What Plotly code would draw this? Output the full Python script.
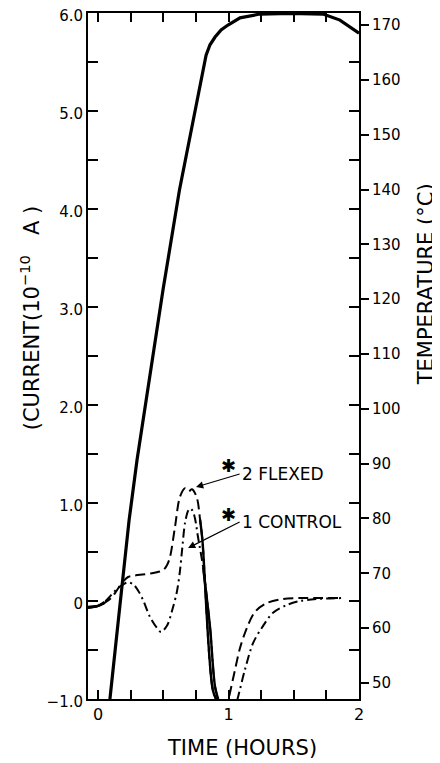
import numpy as np
import plotly.graph_objects as go

# ---- data ----
time_temp = [0.06, 0.092, 0.172, 0.238, 0.299, 0.379, 0.498, 0.624, 0.728, 0.828,
             0.858, 0.897, 0.943, 0.996, 1.088, 1.241, 1.471, 1.724, 1.854, 2.0]
temperature_c = [39.0, 47.3, 65.1, 79.7, 90.7, 103.4, 121.7, 139.9, 152.7, 164.5,
                 166.4, 167.8, 169.1, 170.0, 171.3, 172.0, 172.1, 172.0, 170.9, 168.5]

time_flexed = [-0.077, 0.0, 0.05, 0.10, 0.14, 0.17, 0.20, 0.23, 0.28, 0.34, 0.40, 0.44,
               0.50, 0.53, 0.552, 0.59, 0.628, 0.667, 0.695, 0.72, 0.756, 0.782, 0.80,
               0.88, 0.92, 0.96, 1.004, 1.05, 1.088, 1.142, 1.203, 1.295, 1.418, 1.548,
               1.678, 1.877]
current_flexed = [-0.06, -0.05, -0.02, 0.03, 0.10, 0.16, 0.21, 0.245, 0.26, 0.27, 0.28, 0.29,
                  0.316, 0.37, 0.452, 0.758, 1.064, 1.15, 1.12, 1.14, 1.06, 0.83, 0.62,
                  -0.91, -1.05, -1.25, -0.98, -0.70, -0.48, -0.27, -0.11, -0.02, 0.02, 0.03,
                  0.03, 0.03]

time_control = [-0.077, 0.0, 0.05, 0.10, 0.15, 0.20, 0.23, 0.27, 0.31, 0.345, 0.398, 0.452,
                0.483, 0.529, 0.567, 0.605, 0.628, 0.644, 0.667, 0.69, 0.705, 0.725, 0.745,
                0.766, 0.805, 0.858, 0.897, 0.93, 0.99, 1.073, 1.126, 1.188, 1.257, 1.341,
                1.448, 1.548, 1.678, 1.877]
current_control = [-0.07, -0.05, -0.01, 0.06, 0.13, 0.175, 0.19, 0.17, 0.10, 0.01, -0.163, -0.276,
                   -0.316, -0.25, -0.10, 0.10, 0.31, 0.52, 0.80, 0.92, 0.945, 0.92, 0.83,
                   0.653, 0.347, -0.265, -0.878, -1.05, -1.4, -0.98, -0.70, -0.43, -0.27, -0.12,
                   -0.04, 0.0, 0.02, 0.03]

x_tickvals = [0, 0.25, 0.5, 0.75, 1.0, 1.25, 1.5, 1.75, 2.0]
x_ticktext = ["0", "", "", "", "1", "", "", "", "2"]
y_tickvals = [-1.0, -0.5, 0, 0.5, 1.0, 1.5, 2.0, 2.5, 3.0, 3.5, 4.0, 4.5, 5.0, 5.5, 6.0]
y_ticktext = ["\u22121.0", "", "0", "", "1.0", "", "2.0", "", "3.0", "", "4.0", "", "5.0", "", "6.0"]
t_tickvals = [50, 60, 70, 80, 90, 100, 110, 120, 130, 140, 150, 160, 170]

FONT = "DejaVu Sans"
BLACK = "#000000"
NB = "\u00a0"

fig = go.Figure()

# temperature (right axis)
fig.add_trace(go.Scatter(x=time_temp, y=temperature_c, yaxis="y2", mode="lines",
                         line=dict(color=BLACK, width=3.2), showlegend=False))

# current curves
fig.add_trace(go.Scatter(x=time_flexed, y=current_flexed, mode="lines",
                         line=dict(color=BLACK, width=2, dash="10px,5px", shape="spline", smoothing=0.9),
                         showlegend=False))
fig.add_trace(go.Scatter(x=time_control, y=current_control, mode="lines",
                         line=dict(color=BLACK, width=2, dash="9px,4px,2px,4px", shape="spline", smoothing=0.9),
                         showlegend=False))

# where the two current curves overlap, the drawing is a solid heavy stroke
for tt, cc in [(time_flexed, current_flexed), (time_control, current_control)]:
    t_arr = np.array(tt)
    c_arr = np.array(cc)
    for lo, hi in [(-1, 0.055), (0.78, 0.99)]:
        m = (t_arr >= lo) & (t_arr <= hi)
        fig.add_trace(go.Scatter(x=t_arr[m], y=c_arr[m], mode="lines",
                                 line=dict(color=BLACK, width=2.4, shape="spline", smoothing=0.9),
                                 showlegend=False))

# the page adds an 8px body margin, so the figure is 8px smaller than the window
fig.update_layout(
    width=432, height=755,
    margin=dict(l=80, r=81, t=5, b=64, autoexpand=False),
    paper_bgcolor="white", plot_bgcolor="white",
    font=dict(family=FONT, color=BLACK, size=15),
    xaxis=dict(range=[-0.077, 2.0], tickvals=x_tickvals, ticktext=x_ticktext, automargin=False,
               ticks="inside", ticklen=9, tickwidth=1.5, tickcolor=BLACK,
               showline=True, linewidth=2, linecolor=BLACK, mirror="ticks",
               showgrid=False, zeroline=False, tickfont=dict(size=16)),
    yaxis=dict(range=[-1.0, 6.0], tickvals=y_tickvals, ticktext=y_ticktext, automargin=False,
               ticks="inside", ticklen=10, tickwidth=1.5, tickcolor=BLACK,
               showline=True, linewidth=2, linecolor=BLACK, mirror="ticks",
               ticklabeloverflow="allow", ticklabelshift=3,
               showgrid=False, zeroline=False, tickfont=dict(size=15)),
    yaxis2=dict(range=[47.08, 172.19], tickvals=t_tickvals, overlaying="y", side="right",
                anchor="x", ticks="outside", ticklen=9, tickwidth=1.5, tickcolor=BLACK,
                showline=False, showgrid=False, zeroline=False, automargin=False,
                tickprefix=NB * 2, ticklabeloverflow="allow", tickfont=dict(size=15)),
)

ann = []
# axis titles
ann.append(dict(text="TIME (HOURS)", xref="paper", yref="paper", x=0.568, y=-0.0714,
                showarrow=False, font=dict(size=21), xanchor="center", yanchor="middle"))
ann.append(dict(text="(CURRENT(10<sup>\u221210</sup>" + NB * 3 + "A )", xref="paper", yref="paper",
                x=-0.214, y=0.555, textangle=-90, showarrow=False, font=dict(size=21),
                xanchor="center", yanchor="middle"))
ann.append(dict(text="TEMPERATURE (\u00b0C)", xref="paper", yref="paper",
                x=1.246, y=0.604, textangle=-90, showarrow=False, font=dict(size=21),
                xanchor="center", yanchor="middle"))
# series labels with arrows (arrow head on the curve, label at the tail)
for star_y, head_x, head_y, tail_x, tail_y, label in [
        (1.378, 0.751, 1.163, 1.085, 1.296, "2 FLEXED"),
        (0.878, 0.69, 0.541, 1.085, 0.806, "1 CONTROL")]:
    ann.append(dict(text="\u2731", x=1.0, y=star_y, xref="x", yref="y", showarrow=False,
                    font=dict(size=18), xanchor="center", yanchor="middle"))
    ann.append(dict(text=label, x=head_x, y=head_y, ax=tail_x, ay=tail_y, xref="x", yref="y",
                    axref="x", ayref="y", showarrow=True, arrowhead=2, arrowsize=1.2,
                    arrowwidth=1.2, arrowcolor=BLACK, standoff=0, startstandoff=0,
                    font=dict(size=17), xanchor="left", yanchor="middle"))
fig.update_layout(annotations=ann)

fig.write_html("out.html")
